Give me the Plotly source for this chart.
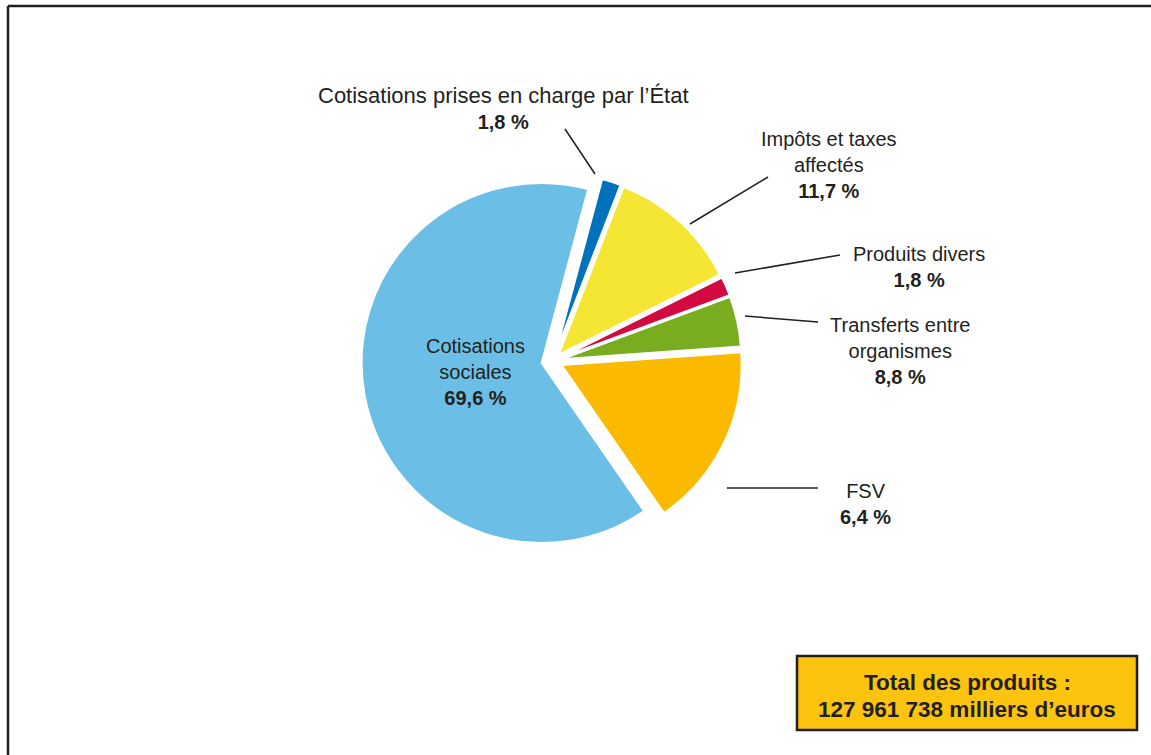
import plotly.graph_objects as go

W, H = 1151, 755

# Slice shares (angles), in drawing order (clockwise)
categories = ["Cotisations prises en charge par l’État", "Impôts et taxes affectés",
              "Produits divers", "Transferts entre organismes", "FSV", "Cotisations sociales"]
slice_shares = [1.7, 11.8, 1.7, 4.5, 16.5, 63.8]
# Percentages printed on the chart
label_pct = ["1,8 %", "11,7 %", "1,8 %", "8,8 %", "6,4 %", "69,6 %"]
label_names = ["<span style='font-size:22px'>Cotisations prises en charge par l’État</span>",
               "Impôts et taxes<br>affectés",
               "Produits divers", "Transferts entre<br>organismes", "FSV", "Cotisations<br>sociales"]
colors = ["#0072BC", "#F5E633", "#D20A3F", "#79AD1F", "#FBBA00", "#6BBFE6"]
pulls = [0.047, 0.047, 0.047, 0.047, 0.053, 0.064]
total_lines = ["Total des produits :", "127 961 738 milliers d’euros"]

TXT = "#231F20"
FONT = "Liberation Sans, Arial, sans-serif"

def px(x):
    return x / W

def py(y):
    return 1 - y / H

# pie geometry (pixels)
cx, cy, r = 553, 361, 180
half = r * (1 + max(pulls))

fig = go.Figure()
fig.add_trace(go.Pie(
    labels=categories, values=slice_shares, sort=False, direction="clockwise",
    rotation=15, pull=pulls, textinfo="none", hoverinfo="label",
    marker=dict(colors=colors, line=dict(color="white", width=2)),
    domain=dict(x=[px(cx - half), px(cx + half)], y=[py(cy + half), py(cy - half)]),
    showlegend=False,
))

# label positions (pixel centres) and leader lines
label_pos = [(503, 108), (829, 165), (919, 267), (900, 351), (865, 504), (475, 372)]
leaders = [((565, 129), (595, 174)), ((690, 224), (768, 177)), ((735, 273), (840, 255)),
           ((745, 316), (818, 322)), ((727, 488), (818, 488)), None]

annotations = []
shapes = []
for name, pct, pos, ld in zip(label_names, label_pct, label_pos, leaders):
    annotations.append(dict(
        x=px(pos[0]), y=py(pos[1]), xref="paper", yref="paper",
        text=f"{name}<br><b>{pct}</b>", showarrow=False, align="center",
        xanchor="center", yanchor="middle",
        font=dict(family=FONT, size=20, color=TXT)))
    if ld:
        shapes.append(dict(type="line", xref="paper", yref="paper",
                           x0=px(ld[0][0]), y0=py(ld[0][1]), x1=px(ld[1][0]), y1=py(ld[1][1]),
                           line=dict(color=TXT, width=1.5)))

# frame
shapes.append(dict(type="line", xref="paper", yref="paper", x0=px(8), y0=py(H + 5), x1=px(8), y1=py(6),
                   line=dict(color=TXT, width=2.5)))
shapes.append(dict(type="line", xref="paper", yref="paper", x0=px(8), y0=py(6), x1=px(W + 5), y1=py(6),
                   line=dict(color=TXT, width=2.5)))

# total box
shapes.append(dict(type="rect", xref="paper", yref="paper", x0=px(797), y0=py(730), x1=px(1137), y1=py(656),
                   fillcolor="#FCC30F", line=dict(color=TXT, width=2.5)))
for line_text, ly in zip(total_lines, [682, 709]):
    annotations.append(dict(x=px(967), y=py(ly), xref="paper", yref="paper",
                            text=f"<b>{line_text}</b>", showarrow=False, align="center",
                            xanchor="center", yanchor="middle",
                            font=dict(family=FONT, size=22.5, color=TXT)))

fig.update_layout(
    width=W, height=H, margin=dict(l=0, r=0, t=0, b=0),
    paper_bgcolor="white", plot_bgcolor="white",
    annotations=annotations, shapes=shapes,
)

fig.write_html("out.html", config={"displayModeBar": False},
               post_script="document.body.style.margin='0';document.body.style.padding='0';"
                           "document.body.style.overflow='hidden';")
